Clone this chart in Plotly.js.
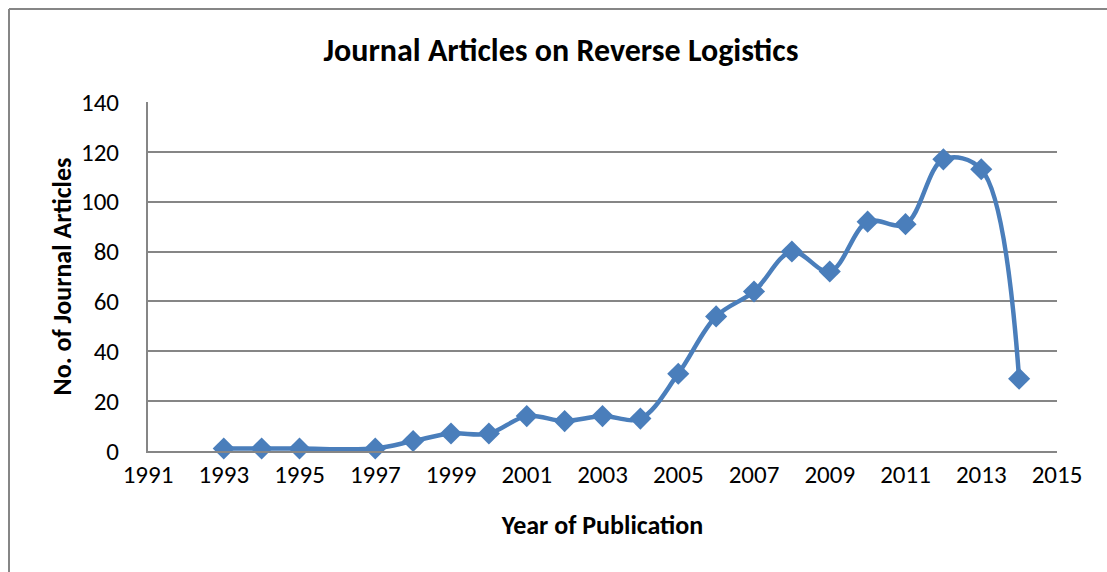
<!DOCTYPE html>
<html>
<head>
<meta charset="utf-8">
<script src="https://cdn.plot.ly/plotly-3.0.1.min.js"></script>
<style>
html,body{margin:0;padding:0;background:#fff;}
#chart{width:1107px;height:572px;}
</style>
</head>
<body>
<div id="chart"></div>
<script>
const years = [1993, 1994, 1995, 1997, 1998, 1999, 2000, 2001, 2002, 2003, 2004, 2005, 2006, 2007, 2008, 2009, 2010, 2011, 2012, 2013, 2014];
const articles = [1, 1, 1, 1, 4, 7, 7, 14, 12, 14, 13, 31, 54, 64, 80, 72, 92, 91, 117, 113, 29];
const xTicks = [1991, 1993, 1995, 1997, 1999, 2001, 2003, 2005, 2007, 2009, 2011, 2013, 2015];
const yTicks = [0, 20, 40, 60, 80, 100, 120, 140];

const fontFam = "Calibri, Carlito, 'Open Sans', 'Liberation Sans', sans-serif";
const trace = {
  x: years, y: articles, type: 'scatter', mode: 'lines+markers',
  line: {color: '#4a7ebb', width: 4.5, shape: 'spline', smoothing: 1},
  marker: {symbol: 'diamond', size: 17, color: '#4a7ebb', line: {width: 0}},
  cliponaxis: false, hoverinfo: 'x+y'
};
const bx = -(148-9)/909, by = (451-9)/349;
const layout = {
  width: 1107, height: 572,
  margin: {l: 148, r: 50, t: 102, b: 121},
  paper_bgcolor: '#fff', plot_bgcolor: '#fff',
  showlegend: false,
  font: {family: fontFam, color: '#000', size: 25},
  title: {text: '<b>Journal Articles on Reverse Logistics</b>', x: (561-148)/909, xref: 'paper', xanchor: 'center',
          y: 1 - 50/572, yanchor: 'middle', font: {size: 32, family: fontFam, color: '#000'}},
  xaxis: {
    range: [1991, 2015], tickvals: xTicks, ticktext: xTicks.map(String),
    showgrid: false, zeroline: false, showline: true, linecolor: '#868686', linewidth: 2,
    ticks: '', tickfont: {size: 25, family: fontFam, color: '#000'},
    title: {text: '<b>Year of Publication</b>', standoff: 27, font: {size: 26, family: fontFam, color: '#000'}}
  },
  yaxis: {
    range: [0, 140], tickvals: yTicks, ticktext: yTicks.map(String),
    showgrid: true, gridcolor: '#868686', gridwidth: 2, zeroline: false,
    showline: true, linecolor: '#868686', linewidth: 2,
    ticks: '', ticklabelstandoff: 22, tickfont: {size: 25, family: fontFam, color: '#000'},
    title: {text: '<b>No. of Journal Articles</b>', standoff: 2, font: {size: 26, family: fontFam, color: '#000'}}
  },
  shapes: [
    {type: 'line', xref: 'paper', yref: 'paper', x0: bx, x1: bx, y0: by, y1: -1, line: {color: '#868686', width: 2}},
    {type: 'line', xref: 'paper', yref: 'paper', x0: bx, x1: 1.2, y0: by, y1: by, line: {color: '#868686', width: 2}}
  ]
};
Plotly.newPlot('chart', [trace], layout, {displayModeBar: false, staticPlot: true});
</script>
</body>
</html>
